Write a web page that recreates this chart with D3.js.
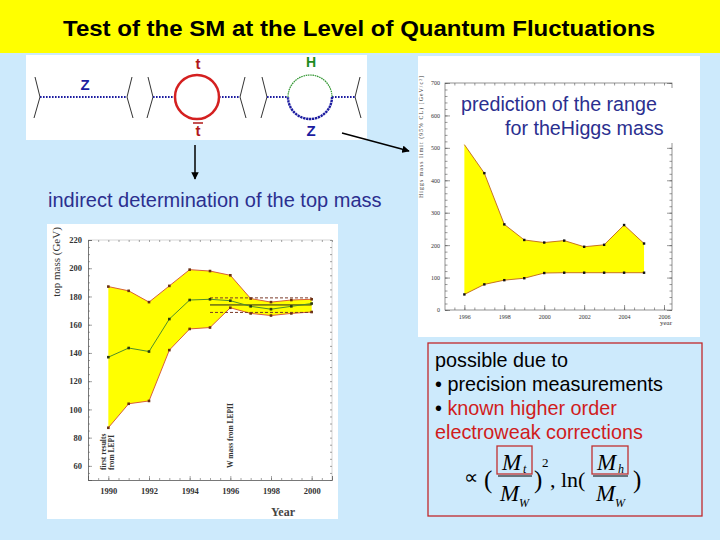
<!DOCTYPE html>
<html><head><meta charset="utf-8">
<script src="https://cdn.jsdelivr.net/npm/d3@7"></script>
<style>body{margin:0;background:#cdeafc}svg{display:block}</style>
</head><body><svg id="s" width="720" height="540"></svg>
<script>
// ---------- data: top mass (left chart) ----------
const topYears = [1990,1991,1992,1993,1994,1995,1996,1997,1998,1999,2000];
const topUpper = [187,184,176,187.5,199,198,195,178.5,176,177.5,178];
const topLower = [87,104,106,142,157,158,172,168,166.5,168,169];
const topFit   = [137,143.5,141,164,177.5,178,177,173,171,173,175];
const topYTicks = [60,80,100,120,140,160,180,200,220];
const topXTicks = [1990,1992,1994,1996,1998,2000];
const lepYears = [1995,2000];
const lepAvg = 174, lepHi = 179, lepLo = 168.7;

// ---------- data: Higgs mass (right chart) ----------
const higgsYears = [1996,1997,1998,1999,2000,2001,2002,2003,2004,2005];
const higgsUpper = [510,422,264,216,208,214,195,201,262,205];
const higgsLower = [48,79,92,98,114,115,115,115,115,115];
const higgsYTicks = [0,100,200,300,400,500,600,700];
const higgsXTicks = [1996,1998,2000,2002,2004,2006];

const svg = d3.select("#s");
const SANS = "'Liberation Sans', Arial, sans-serif";
const SERIF = "'Liberation Serif', 'Times New Roman', serif";

svg.append("rect").attr("width",720).attr("height",540).attr("fill","#cdeafc");

// title bar
svg.append("rect").attr("x",0).attr("y",0).attr("width",720).attr("height",53).attr("fill","#ffff00");
svg.append("text").attr("x",63).attr("y",36).attr("textLength",592).attr("lengthAdjust","spacingAndGlyphs")
  .attr("font-family",SANS).attr("font-weight","bold").attr("font-size",22).attr("fill","#000")
  .text("Test of the SM at the Level of Quantum Fluctuations");

// defs: arrow marker
const defs = svg.append("defs");
defs.append("marker").attr("id","arr").attr("viewBox","0 0 10 10").attr("refX",9).attr("refY",5)
  .attr("markerWidth",5).attr("markerHeight",5).attr("orient","auto")
  .append("path").attr("d","M0,0 L10,5 L0,10 z").attr("fill","#000");

// ---------- Feynman diagrams panel ----------
svg.append("rect").attr("x",26).attr("y",55).attr("width",341).attr("height",85).attr("fill","#fff");
const fg = svg.append("g");
const blue = "#1c1ca0";
function fermion(vx, dir){
  fg.append("path").attr("d",`M${vx+dir*5},77 L${vx},97 L${vx+dir*6},118`)
    .attr("fill","none").attr("stroke","#333").attr("stroke-width",1);
}
function dotted(x1,x2){
  fg.append("line").attr("x1",x1).attr("x2",x2).attr("y1",97).attr("y2",97)
    .attr("stroke",blue).attr("stroke-width",2.2).attr("stroke-dasharray","1.6,1.4");
}
fermion(40,-1); fermion(127,1); dotted(40,127);
fg.append("text").attr("x",85).attr("y",90).attr("text-anchor","middle").attr("font-family",SANS)
  .attr("font-weight","bold").attr("font-size",15).attr("fill",blue).text("Z");
fermion(153,-1); fermion(240,1); dotted(153,175); dotted(219,240);
fg.append("circle").attr("cx",197).attr("cy",97).attr("r",22).attr("fill","none")
  .attr("stroke","#d42020").attr("stroke-width",2.5);
fg.append("text").attr("x",198).attr("y",69).attr("text-anchor","middle").attr("font-family",SANS)
  .attr("font-weight","bold").attr("font-size",15).attr("fill","#b01818").text("t");
fg.append("text").attr("x",198).attr("y",136).attr("text-anchor","middle").attr("font-family",SANS)
  .attr("font-weight","bold").attr("font-size",15).attr("fill","#b01818").text("t");
fg.append("line").attr("x1",193).attr("x2",203).attr("y1",123).attr("y2",123).attr("stroke","#b01818").attr("stroke-width",1.5);
fermion(267,-1); fermion(355,1); dotted(267,288); dotted(332,355);
fg.append("path").attr("d",d3.arc()({innerRadius:22,outerRadius:22,startAngle:-Math.PI/2,endAngle:Math.PI/2}))
  .attr("transform","translate(310,97)").attr("fill","none").attr("stroke","#3a9a3a")
  .attr("stroke-width",1.2).attr("stroke-dasharray","1,1.3");
fg.append("path").attr("d",d3.arc()({innerRadius:22,outerRadius:22,startAngle:Math.PI/2,endAngle:3*Math.PI/2}))
  .attr("transform","translate(310,97)").attr("fill","none").attr("stroke",blue)
  .attr("stroke-width",2.4).attr("stroke-dasharray","1.6,1.4");
fg.append("text").attr("x",311).attr("y",67).attr("text-anchor","middle").attr("font-family",SANS)
  .attr("font-weight","bold").attr("font-size",14).attr("fill","#1e8a1e").text("H");
fg.append("text").attr("x",311).attr("y",136).attr("text-anchor","middle").attr("font-family",SANS)
  .attr("font-weight","bold").attr("font-size",15).attr("fill",blue).text("Z");

// arrows
svg.append("line").attr("x1",195).attr("y1",145).attr("x2",195).attr("y2",179)
  .attr("stroke","#000").attr("stroke-width",1.5).attr("marker-end","url(#arr)");
svg.append("line").attr("x1",342).attr("y1",133).attr("x2",409).attr("y2",151)
  .attr("stroke","#000").attr("stroke-width",1.5).attr("marker-end","url(#arr)");

svg.append("text").attr("x",48).attr("y",207).attr("font-family",SANS).attr("font-size",20)
  .attr("fill","#2b2f8f").text("indirect determination of the top mass");

// ---------- left chart: top mass ----------
svg.append("rect").attr("x",47).attr("y",224).attr("width",291).attr("height",295).attr("fill","#fff");
const lx = d3.scaleLinear([1989,2001],[88,332]);
const ly = d3.scaleLinear([50,220],[480,240]);
const L = svg.append("g");
L.append("line").attr("x1",lx(1989)).attr("x2",lx(2001)).attr("y1",ly(220)).attr("y2",ly(220)).attr("stroke","#bbb").attr("stroke-width",0.6);
L.append("line").attr("x1",lx(2001)).attr("x2",lx(2001)).attr("y1",ly(220)).attr("y2",ly(50)).attr("stroke","#bbb").attr("stroke-width",0.6);
const topIdx = d3.range(topYears.length);
L.append("path").datum(topIdx).attr("fill","#ffff00")
  .attr("d",d3.area().x(i=>lx(topYears[i])).y0(i=>ly(topLower[i])).y1(i=>ly(topUpper[i])));
const lineOrange = "#d8603a";
[topUpper, topLower].forEach(arr=>{
  L.append("path").datum(topIdx).attr("fill","none").attr("stroke",lineOrange).attr("stroke-width",1)
    .attr("d",d3.line().x(i=>lx(topYears[i])).y(i=>ly(arr[i])));
  L.selectAll(null).data(topIdx).enter().append("rect")
    .attr("x",i=>lx(topYears[i])-1.3).attr("y",i=>ly(arr[i])-1.3).attr("width",2.6).attr("height",2.6).attr("fill","#6a3010");
});
L.append("line").attr("x1",lx(lepYears[0])).attr("x2",lx(lepYears[1])).attr("y1",ly(lepAvg)).attr("y2",ly(lepAvg)).attr("stroke","#222").attr("stroke-width",1);
[lepHi,lepLo].forEach(v=>L.append("line").attr("x1",lx(lepYears[0])).attr("x2",lx(lepYears[1])).attr("y1",ly(v)).attr("y2",ly(v))
  .attr("stroke","#7a3a2a").attr("stroke-width",1).attr("stroke-dasharray","3,2"));
L.append("path").datum(topIdx).attr("fill","none").attr("stroke","#4f8f2a").attr("stroke-width",1)
  .attr("d",d3.line().x(i=>lx(topYears[i])).y(i=>ly(topFit[i])));
L.selectAll(null).data(topIdx).enter().append("rect")
  .attr("x",i=>lx(topYears[i])-1.3).attr("y",i=>ly(topFit[i])-1.3).attr("width",2.6).attr("height",2.6).attr("fill","#2a3a10");
L.append("g").attr("transform",`translate(${lx(1989)},0)`)
  .call(d3.axisLeft(ly).tickValues(topYTicks).tickSize(-4).tickPadding(6).tickFormat(d3.format("d")));
L.append("g").attr("transform",`translate(${lx(1989)},0)`)
  .call(d3.axisLeft(ly).tickValues(d3.range(50,221,5)).tickSize(-2).tickFormat(""))
  .select(".domain").remove();
L.append("g").attr("transform",`translate(${lx(2001)},0)`)
  .call(d3.axisRight(ly).tickValues(d3.range(50,221,5)).tickSize(-2).tickFormat(""))
  .select(".domain").remove();
L.append("g").attr("transform",`translate(0,${ly(50)})`)
  .call(d3.axisBottom(lx).tickValues(topXTicks).tickSize(-4).tickPadding(8).tickFormat(d3.format("d")));
L.append("g").attr("transform",`translate(0,${ly(50)})`)
  .call(d3.axisBottom(lx).tickValues(d3.range(1989,2001.01,0.5)).tickSize(-2).tickFormat(""))
  .select(".domain").remove();
L.append("g").attr("transform",`translate(0,${ly(220)})`)
  .call(d3.axisTop(lx).tickValues(d3.range(1989,2001.01,0.5)).tickSize(-2).tickFormat(""))
  .select(".domain").remove();
L.selectAll(".domain").attr("stroke","#555").attr("stroke-width",0.8);
L.selectAll(".tick line").attr("stroke","#666").attr("stroke-width",0.6);
L.selectAll(".tick text").attr("font-family",SERIF).attr("font-weight","bold").attr("font-size",8.5).attr("fill","#333");
L.append("text").attr("transform","translate(60,262) rotate(-90)").attr("text-anchor","middle")
  .attr("font-family",SERIF).attr("font-size",11).attr("fill","#333").text("top mass (GeV)");
L.append("text").attr("x",283).attr("y",516).attr("text-anchor","middle")
  .attr("font-family",SERIF).attr("font-weight","bold").attr("font-size",12).attr("fill","#444").text("Year");
L.append("text").attr("transform","translate(106,470) rotate(-90)").attr("font-family",SERIF)
  .attr("font-weight","bold").attr("font-size",7.5).attr("fill","#333").text("first results");
L.append("text").attr("transform","translate(114,470) rotate(-90)").attr("font-family",SERIF)
  .attr("font-weight","bold").attr("font-size",7.5).attr("fill","#333").text("from LEPI");
L.append("text").attr("transform","translate(233,468) rotate(-90)").attr("font-family",SERIF)
  .attr("font-weight","bold").attr("font-size",7.5).attr("fill","#333").text("W mass from LEPII");

// ---------- right chart: Higgs mass ----------
svg.append("rect").attr("x",418).attr("y",56).attr("width",282).attr("height",281).attr("fill","#fff");
const rx = d3.scaleLinear([1995.03,2006.4],[445,672]);
const ry = d3.scaleLinear([0,700],[310,83]);
const R = svg.append("g");
const hIdx = d3.range(higgsYears.length);
R.append("path").datum(hIdx).attr("fill","#ffff00")
  .attr("d",d3.area().x(i=>rx(higgsYears[i])).y0(i=>ry(higgsLower[i])).y1(i=>ry(higgsUpper[i])));
[higgsUpper,higgsLower].forEach(arr=>{
  R.append("path").datum(hIdx).attr("fill","none").attr("stroke","#c0641a").attr("stroke-width",0.9)
    .attr("d",d3.line().x(i=>rx(higgsYears[i])).y(i=>ry(arr[i])));
  R.selectAll(null).data(hIdx.filter(i=>!(arr===higgsUpper && i===0))).enter().append("rect")
    .attr("x",i=>rx(higgsYears[i])-1.2).attr("y",i=>ry(arr[i])-1.2).attr("width",2.4).attr("height",2.4).attr("fill","#111");
});
R.append("rect").attr("x",rx(1995.03)).attr("y",ry(700)).attr("width",rx(2006.4)-rx(1995.03)).attr("height",ry(0)-ry(700))
  .attr("fill","none").attr("stroke","#666").attr("stroke-width",0.7);
R.append("g").attr("transform",`translate(${rx(1995.03)},0)`)
  .call(d3.axisLeft(ry).tickValues(higgsYTicks).tickSize(-5).tickPadding(5).tickFormat(d3.format("d")));
R.append("g").attr("transform",`translate(${rx(1995.03)},0)`)
  .call(d3.axisLeft(ry).tickValues(d3.range(0,701,20)).tickSize(-2.5).tickFormat(""));
R.append("g").attr("transform",`translate(${rx(2006.4)},0)`)
  .call(d3.axisRight(ry).tickValues(higgsYTicks).tickSize(-5).tickFormat(""));
R.append("g").attr("transform",`translate(${rx(2006.4)},0)`)
  .call(d3.axisRight(ry).tickValues(d3.range(0,701,20)).tickSize(-2.5).tickFormat(""));
R.append("g").attr("transform",`translate(0,${ry(0)})`)
  .call(d3.axisBottom(rx).tickValues(higgsXTicks).tickSize(-5).tickPadding(5).tickFormat(d3.format("d")));
R.append("g").attr("transform",`translate(0,${ry(0)})`)
  .call(d3.axisBottom(rx).tickValues(d3.range(1995.5,2006.01,0.5)).tickSize(-2.5).tickFormat(""));
R.append("g").attr("transform",`translate(0,${ry(700)})`)
  .call(d3.axisTop(rx).tickValues(d3.range(1995.5,2006.01,0.5)).tickSize(-2.5).tickFormat(""));
R.selectAll(".domain").remove();
R.selectAll(".tick line").attr("stroke","#555").attr("stroke-width",0.6);
R.selectAll(".tick text").attr("font-family",SERIF).attr("font-size",6).attr("fill","#333");
R.append("text").attr("transform","translate(423,198) rotate(-90)")
  .attr("font-family",SERIF).attr("font-size",5.8).attr("fill","#333").attr("textLength",122)
  .text("Higgs mass limit (95% CL) [GeV/c\u00B2]");
R.append("text").attr("x",672).attr("y",325).attr("text-anchor","end")
  .attr("font-family",SERIF).attr("font-size",7).attr("fill","#333").text("year");
R.append("rect").attr("x",455).attr("y",88).attr("width",222).attr("height",55).attr("fill","#fff");
R.append("text").attr("x",461).attr("y",111).attr("font-family",SANS).attr("font-size",19.7)
  .attr("fill","#2b2f8f").text("prediction of the range");
R.append("text").attr("x",505).attr("y",135).attr("font-family",SANS).attr("font-size",19.7)
  .attr("fill","#2b2f8f").text("for theHiggs mass");

// ---------- text box bottom-right ----------
const B = svg.append("g");
B.append("rect").attr("x",428).attr("y",343).attr("width",274).attr("height",173)
  .attr("fill","none").attr("stroke","#c0282c").attr("stroke-width",1.3);
const red = "#d01c1c";
B.append("text").attr("x",435).attr("y",367).attr("font-family",SANS).attr("font-size",19.8).attr("fill","#000").text("possible due to");
B.append("text").attr("x",435).attr("y",391).attr("font-family",SANS).attr("font-size",19.8).attr("fill","#000").text("\u2022 precision measurements");
const t3 = B.append("text").attr("x",435).attr("y",415).attr("font-family",SANS).attr("font-size",19.8);
t3.append("tspan").attr("fill","#000").text("\u2022 ");
t3.append("tspan").attr("fill",red).text("known higher order");
B.append("text").attr("x",435).attr("y",439).attr("font-family",SANS).attr("font-size",19.8).attr("fill",red).text("electroweak corrections");
const F = B.append("g").attr("font-family",SERIF).attr("fill","#000");
F.append("text").attr("x",464).attr("y",484).attr("font-size",20).text("\u221D");
F.append("text").attr("x",484).attr("y",488).attr("font-size",25).text("(");
F.append("text").attr("x",502).attr("y",470).attr("font-size",23).attr("font-style","italic").text("M");
F.append("text").attr("x",523).attr("y",473).attr("font-size",12).attr("font-style","italic").text("t");
F.append("line").attr("x1",498).attr("x2",532).attr("y1",476).attr("y2",476).attr("stroke","#000").attr("stroke-width",1);
F.append("text").attr("x",500).attr("y",501).attr("font-size",23).attr("font-style","italic").text("M");
F.append("text").attr("x",519).attr("y",507).attr("font-size",12).attr("font-style","italic").text("W");
F.append("text").attr("x",534).attr("y",488).attr("font-size",25).text(")");
F.append("text").attr("x",542).attr("y",467).attr("font-size",13).text("2");
F.append("text").attr("x",550).attr("y",487).attr("font-size",22).text(", ln(");
F.append("text").attr("x",597).attr("y",470).attr("font-size",23).attr("font-style","italic").text("M");
F.append("text").attr("x",618).attr("y",473).attr("font-size",12).attr("font-style","italic").text("h");
F.append("line").attr("x1",593).attr("x2",628).attr("y1",476).attr("y2",476).attr("stroke","#000").attr("stroke-width",1);
F.append("text").attr("x",596).attr("y",501).attr("font-size",23).attr("font-style","italic").text("M");
F.append("text").attr("x",615).attr("y",507).attr("font-size",12).attr("font-style","italic").text("W");
F.append("text").attr("x",633).attr("y",488).attr("font-size",25).text(")");
B.append("rect").attr("x",497).attr("y",446).attr("width",35).attr("height",28).attr("fill","none").attr("stroke","#c03030").attr("stroke-width",1.3);
B.append("rect").attr("x",592).attr("y",446).attr("width",36).attr("height",28).attr("fill","none").attr("stroke","#c03030").attr("stroke-width",1.3);
</script></body></html>
